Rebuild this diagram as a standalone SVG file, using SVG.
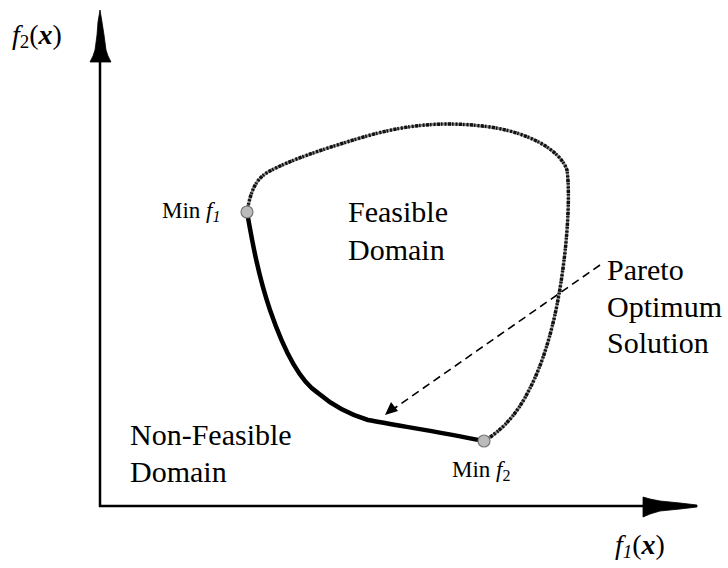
<svg xmlns="http://www.w3.org/2000/svg" width="728" height="568" viewBox="0 0 728 568">
<style>
text{font-family:"Liberation Serif","Times New Roman",serif;fill:#000}
.big{font-size:30px}
.sm{font-size:23px}
.ax{font-size:28px}
.axis{stroke:#000;stroke-width:2.5;fill:none}
.head{fill:#000;stroke:#000;stroke-width:0.8}
.front{stroke:#000;stroke-width:4.5;fill:none;stroke-linejoin:round;stroke-linecap:round}
.bound1{stroke:#888;stroke-width:3;fill:none}
.bound2{stroke:#111;stroke-width:3.5;fill:none;stroke-dasharray:2 1.5 3 1 1.5 2}
.pt{fill:#bbb;stroke:#777;stroke-width:1.2}
</style>
<g id="axes">
<line class="axis" x1="100" y1="55" x2="100" y2="507"/>
<line class="axis" x1="99" y1="506" x2="650" y2="506"/>
<polygon class="head" points="100,10 102,22 104,35 106,50 108,56 111,62 90,62 93,56 95,50 97,35 98,22"/>
<polygon class="head" points="643,497 650,499 660,501 680,503 697,505 697,507 680,509 660,511 650,514 643,517"/>
</g>
<g id="labels">
<text class="ax" x="12" y="44"><tspan font-style="italic">f</tspan><tspan font-size="19" dy="4">2</tspan><tspan dy="-4">(</tspan><tspan font-style="italic" font-weight="bold">x</tspan>)</text>
<text class="ax" x="615" y="554"><tspan font-style="italic">f</tspan><tspan font-size="19" font-style="italic" dy="4">1</tspan><tspan dy="-4">(</tspan><tspan font-style="italic" font-weight="bold">x</tspan>)</text>
</g>
<g id="feasible-boundary">
<path class="bound1" d="M247,212 C250,195 254,180 268,172 C290,160 320,150 360,138 C400,126 440,120 490,127 C530,133 560,150 567,170 C571,200 566,260 557,305 C550,340 540,370 528,392 C518,412 503,430 484,441"/>
<path class="bound2" d="M247,212 C250,195 254,180 268,172 C290,160 320,150 360,138 C400,126 440,120 490,127 C530,133 560,150 567,170 C571,200 566,260 557,305 C550,340 540,370 528,392 C518,412 503,430 484,441"/>
</g>
<g id="pareto-front">
<path class="front" d="M247,212 C252,240 258,275 270,310 C282,345 298,380 318,393 C332,405 348,414 368,420 C400,426 440,432 484,441"/>
</g>
<g id="min-f1">
<circle class="pt" cx="247" cy="212" r="6"/>
<text class="sm" x="162" y="218">Min <tspan font-style="italic">f</tspan><tspan font-style="italic" font-size="16" dy="4">1</tspan></text>
</g>
<g id="min-f2">
<circle class="pt" cx="484" cy="441" r="6"/>
<text class="sm" x="452" y="477">Min <tspan font-style="italic">f</tspan><tspan font-size="16" dy="4">2</tspan></text>
</g>
<g id="feasible-domain">
<text class="big" x="348" y="222">Feasible</text>
<text class="big" x="348" y="260">Domain</text>
</g>
<g id="non-feasible-domain">
<text class="big" x="130" y="445">Non-Feasible</text>
<text class="big" x="130" y="482">Domain</text>
</g>
<g id="pareto-label">
<text class="big" x="607" y="280">Pareto</text>
<text class="big" x="607" y="317">Optimum</text>
<text class="big" x="607" y="353">Solution</text>
</g>
<g id="connectors">
<line x1="600" y1="265" x2="392" y2="410" stroke="#000" stroke-width="1.6" stroke-dasharray="8 5"/>
<polygon points="385,415 391,402 398,411" fill="#000"/>
</g>
</svg>
